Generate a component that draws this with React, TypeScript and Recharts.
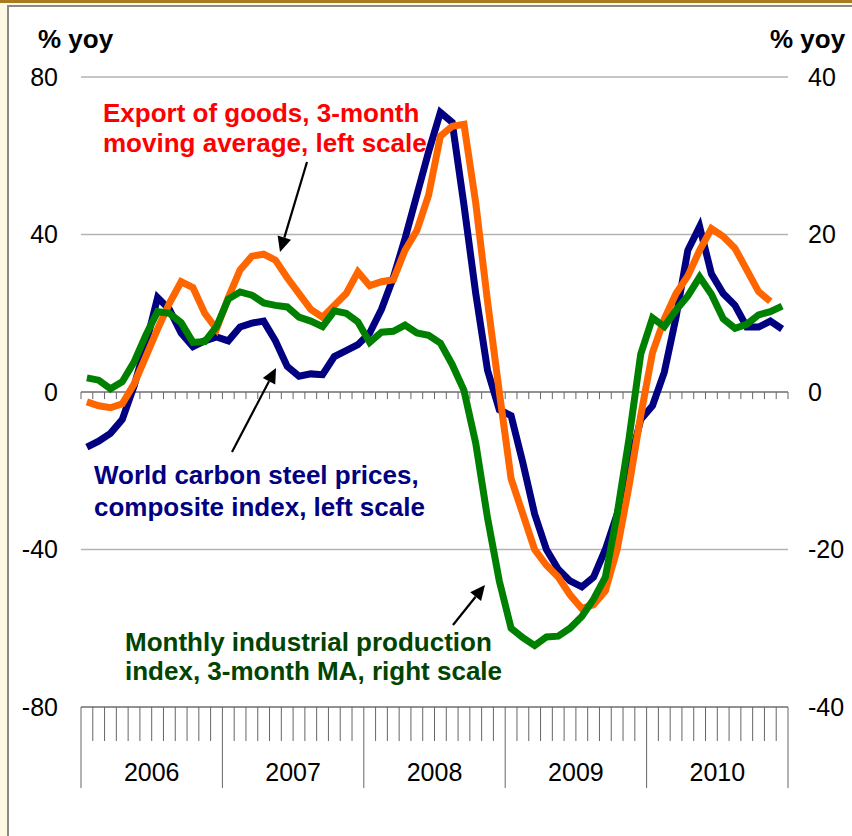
import React from "react";
import {
  CartesianGrid,
  Line,
  LineChart,
  ReferenceLine,
  XAxis,
  YAxis,
} from "recharts";

const YEARS = ["2006", "2007", "2008", "2009", "2010"];

// % yoy, monthly Jan 2006 .. Dec 2010 (left scale)
const STEEL = [
  -14, -12.5, -10.5, -7, 1.5, 12, 24, 21, 15, 11.5, 13, 14,
  13, 16.5, 17.5, 18, 13, 6.5, 4, 4.6, 4.4, 9, 10.5, 12,
  15, 21, 29, 39, 50, 61, 71, 68.5, 47.5, 25, 5.5, -4.5,
  -6, -18, -31, -40, -45, -48, -49.5, -47, -40, -31, -19, -7,
  -3.5, 5, 19, 36, 42, 30, 25, 22, 16.5, 16.5, 18, 16,
];

const EXPORTS = [
  -2.5, -3.5, -4, -3, 2, 9, 16, 22.5, 28, 26.5, 20, 16,
  24, 31, 34.5, 35, 33.5, 29, 25, 21, 19, 22, 25, 30.5,
  27, 28, 28.5, 36, 41, 50, 65, 67.5, 68, 48, 23, 0,
  -22, -31, -40, -44, -47, -51.5, -55, -54, -50.5, -40, -24, -6,
  10, 18.5, 25, 29.5, 36, 41.5, 39.5, 36.5, 31, 25.5, 23, null,
];

// right scale
const PRODUCTION = [
  1.8, 1.5, 0.4, 1.3, 3.8, 7.2, 10.2, 10, 8.8, 6.3, 6.4, 8.3,
  11.8, 12.7, 12.3, 11.3, 11, 10.8, 9.5, 9, 8.3, 10.3, 10, 8.9,
  6.3, 7.6, 7.7, 8.5, 7.5, 7.2, 6.2, 3.5, 0.2, -6.5, -16, -24,
  -30, -31.2, -32.2, -31.1, -31, -30, -28.5, -26.3, -23.5, -15.5, -6, 4.8,
  9.4, 8.3, 10.4, 12.2, 14.6, 12.4, 9.3, 8.1, 8.6, 9.8, 10.2, 10.9,
];

const LEFT_TICKS = [-80, -40, 0, 40, 80];
const RIGHT_TICKS = [-40, -20, 0, 20, 40];
const MONTH_EDGES = Array.from({ length: 61 }, (_, i) => i);

const data = STEEL.map((s, i) => ({
  pos: i + 0.5,
  steel: s,
  exports: EXPORTS[i],
  production: PRODUCTION[i],
}));

const FONT = "'Liberation Sans', Arial, sans-serif";
const PLOT_LEFT = 81;
const PLOT_RIGHT = 788;
const YEAR_W = (PLOT_RIGHT - PLOT_LEFT) / YEARS.length;

const MonthTick = (props: any) => {
  const { x, y, payload } = props;
  const v = payload.value as number;
  const edge = v % 12 === 0;
  return (
    <g>
      <line x1={x} y1={y} x2={x} y2={y + (edge ? 81 : 34)} stroke="#666" strokeWidth={1} />
      {edge && v < 60 && (
        <text x={x + YEAR_W / 2} y={y + 74} textAnchor="middle" fontSize={25} fontFamily={FONT} fill="#000">
          {YEARS[v / 12]}
        </text>
      )}
    </g>
  );
};

const Arrow = ({ x1, y1, x2, y2 }: { x1: number; y1: number; x2: number; y2: number }) => {
  const a = Math.atan2(y2 - y1, x2 - x1);
  const L = 15, Wd = 7;
  const bx = x2 - L * Math.cos(a), by = y2 - L * Math.sin(a);
  const px = -Math.sin(a) * Wd, py = Math.cos(a) * Wd;
  return (
    <g>
      <line x1={x1} y1={y1} x2={bx} y2={by} stroke="#000" strokeWidth={2.2} />
      <polygon points={`${x2},${y2} ${bx + px},${by + py} ${bx - px},${by - py}`} fill="#000" />
    </g>
  );
};

export default function App() {
  return (
    <div style={{ position: "absolute", left: 0, top: 0, width: 852, height: 836, background: "#fff9e3", overflow: "hidden" }}>
      <div style={{ position: "absolute", left: 0, top: 0, width: 852, height: 3, background: "#a87b1e" }} />
      <div style={{ position: "absolute", left: 7, top: 5, width: 860, height: 850, background: "#fff", border: "2px solid #8a8a8a" }} />
      <div style={{ position: "absolute", left: 0, top: 0 }}>
        <LineChart width={852} height={836} data={data} margin={{ top: 77, right: 0, left: 0, bottom: 89 }}>
          <CartesianGrid yAxisId="left" vertical={false} stroke="#b3b3b3" strokeWidth={1.5} />
          <XAxis
            type="number"
            dataKey="pos"
            domain={[0, 60]}
            ticks={MONTH_EDGES}
            interval={0}
            height={40}
            tickSize={0}
            tickMargin={0}
            tickLine={false}
            axisLine={{ stroke: "#808080", strokeWidth: 1.5 }}
            tick={<MonthTick />}
          />
          <YAxis
            yAxisId="left"
            domain={[-80, 80]}
            ticks={LEFT_TICKS}
            width={81}
            tickSize={0}
            tickMargin={23}
            axisLine={false}
            tickLine={false}
            tick={{ fontSize: 25, fill: "#000", fontFamily: FONT }}
          />
          <YAxis
            yAxisId="right"
            orientation="right"
            domain={[-40, 40]}
            ticks={RIGHT_TICKS}
            width={64}
            tickSize={0}
            tickMargin={20}
            axisLine={false}
            tickLine={false}
            tick={{ fontSize: 25, fill: "#000", fontFamily: FONT }}
          />
          <ReferenceLine yAxisId="left" y={0} stroke="#808080" strokeWidth={1.5} />
          {MONTH_EDGES.map((m) => (
            <ReferenceLine
              key={m}
              yAxisId="left"
              segment={[{ x: m, y: 0 }, { x: m, y: -1.8 }]}
              stroke="#666"
              strokeWidth={1}
            />
          ))}
          <Line yAxisId="left" type="linear" dataKey="steel" stroke="#000080" strokeWidth={7} dot={false} isAnimationActive={false} />
          <Line yAxisId="left" type="linear" dataKey="exports" stroke="#ff6600" strokeWidth={7} dot={false} isAnimationActive={false} />
          <Line yAxisId="right" type="linear" dataKey="production" stroke="#008000" strokeWidth={7} dot={false} isAnimationActive={false} />
        </LineChart>
      </div>
      <svg width={852} height={836} style={{ position: "absolute", left: 0, top: 0, pointerEvents: "none" }} fontFamily={FONT}>
        <text x={38} y={48} fontSize={26} fontWeight="bold">% yoy</text>
        <text x={770} y={48} fontSize={26} fontWeight="bold">% yoy</text>
        <g fontSize={26} fontWeight="bold" fill="#ff0000">
          <text x={103} y={122}>Export of goods, 3-month</text>
          <text x={103} y={152}>moving average, left scale</text>
        </g>
        <g fontSize={26} fontWeight="bold" fill="#000080">
          <text x={94} y={484}>World carbon steel prices,</text>
          <text x={94} y={516}>composite index, left scale</text>
        </g>
        <g fontSize={26} fontWeight="bold" fill="#004400">
          <text x={125} y={651}>Monthly industrial production</text>
          <text x={125} y={680}>index, 3-month MA, right scale</text>
        </g>
        <Arrow x1={307} y1={162} x2={280} y2={252} />
        <Arrow x1={232} y1={452} x2={276} y2={368} />
        <Arrow x1={453} y1={625} x2={485} y2={585} />
      </svg>
    </div>
  );
}
